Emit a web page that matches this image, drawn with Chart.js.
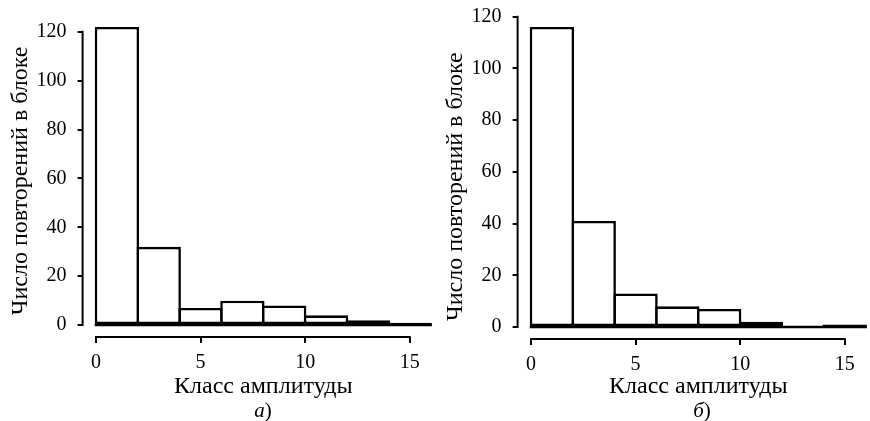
<!DOCTYPE html>
<html>
<head>
<meta charset="utf-8">
<script src="https://cdn.jsdelivr.net/npm/chart.js@4.4.1/dist/chart.umd.min.js"></script>
<style>
  html, body { margin:0; padding:0; background:#fff; overflow:hidden; }
  body { width:870px; height:421px; position:relative; }
  .panel { position:absolute; top:0; width:450px; height:421px; }
  .cap { position:absolute; top:399px; line-height:22px; font-size:21px; font-family:"Liberation Serif", serif; transform:translateX(-50%); }
</style>
</head>
<body>
<div class="panel" style="left:0"><canvas id="chartA" width="450" height="421"></canvas></div>
<div class="panel" style="left:435px"><canvas id="chartB" width="450" height="421"></canvas></div>
<div class="cap" style="left:263px"><i>а</i>)</div>
<div class="cap" style="left:702px"><i>б</i>)</div>
<script>
// bin edges of the amplitude classes
const binEdges = [0, 2, 4, 6, 8, 10, 12, 14, 16];
// counts per bin, panel а) and panel б)
const countsA = [122, 32, 7, 10, 8, 4, 2, 1];
const countsB = [116, 41, 13, 8, 7, 2, 0, 1];

const xTicks = [0, 5, 10, 15];
const yTicks = [0, 20, 40, 60, 80, 100, 120];

const xTitle = 'Класс амплитуды';
const yTitle = 'Число повторений в блоке';

const serif = '"Liberation Serif", "Times New Roman", serif';

// axis lines only span first..last tick, plus the zero line under the bins
const axisLines = {
  id: 'axisLines',
  afterDatasetsDraw(chart) {
    const {ctx, chartArea, scales: {x, y}} = chart;
    ctx.save();
    ctx.strokeStyle = '#000';
    ctx.lineWidth = 2.5;
    ctx.beginPath();
    ctx.moveTo(x.getPixelForValue(binEdges[0]) - 1.25, y.getPixelForValue(0));
    ctx.lineTo(x.getPixelForValue(binEdges[binEdges.length - 1]) + 1.25, y.getPixelForValue(0));
    ctx.stroke();

    ctx.lineWidth = 2;
    ctx.beginPath();
    ctx.moveTo(chartArea.left, y.getPixelForValue(yTicks[0]) + 1);
    ctx.lineTo(chartArea.left, y.getPixelForValue(yTicks[yTicks.length - 1]) - 1);
    ctx.moveTo(x.getPixelForValue(xTicks[0]) - 1, chartArea.bottom);
    ctx.lineTo(x.getPixelForValue(xTicks[xTicks.length - 1]) + 1, chartArea.bottom);
    ctx.stroke();
    ctx.restore();
  }
};

// yPad: thin spaces after the y title nudge it down along the axis
function makeHist(canvasId, counts, yMin, yMax, xAxisHeight, yPad) {
  const points = counts.map((c, i) => ({ x: (binEdges[i] + binEdges[i + 1]) / 2, y: c }));
  return new Chart(document.getElementById(canvasId), {
    type: 'bar',
    data: {
      datasets: [{
        data: points,
        backgroundColor: '#fff',
        borderColor: '#000',
        borderWidth: 2.6,
        borderSkipped: false,
        barPercentage: 1.06,
        categoryPercentage: 1
      }]
    },
    options: {
      responsive: false,
      animation: false,
      layout: { padding: { top: 15, left: 0, right: 6, bottom: 0 } },
      plugins: { legend: { display: false }, tooltip: { enabled: false } },
      scales: {
        x: {
          type: 'linear',
          offset: false,
          min: -0.64,
          max: 16.64,
          afterBuildTicks: s => { s.ticks = xTicks.map(v => ({ value: v })); },
          afterFit: s => { s.height = xAxisHeight; },
          border: { display: false },
          grid: { offset: false, drawOnChartArea: false, drawTicks: true, tickLength: 6, color: '#000', lineWidth: 2 },
          ticks: { color: '#000', padding: 8, maxRotation: 0, autoSkip: false, font: { family: serif, size: 20 } },
          title: { display: true, text: xTitle, color: '#000', padding: { top: 0, bottom: 20 }, font: { family: serif, size: 24 } }
        },
        y: {
          min: yMin,
          max: yMax,
          afterBuildTicks: s => { s.ticks = yTicks.map(v => ({ value: v })); },
          afterFit: s => {
            s.width = 82.6;
            // keep the plot top where the layout padding puts it
            s.paddingTop = 0;
            s.paddingBottom = 0;
          },
          border: { display: false },
          grid: { drawOnChartArea: false, drawTicks: true, tickLength: 5, color: '#000', lineWidth: 2 },
          ticks: { color: '#000', padding: 11, font: { family: serif, size: 20 } },
          title: { display: true, text: yTitle + '\u2009'.repeat(yPad), color: '#000', padding: { top: 6, bottom: 0 }, font: { family: serif, size: 24 } }
        }
      }
    },
    plugins: [axisLines]
  });
}

makeHist('chartA', countsA, -4.88, 126.88, 84, 2);
makeHist('chartB', countsB, -4.64, 120.64, 82, 4);
</script>
</body>
</html>
